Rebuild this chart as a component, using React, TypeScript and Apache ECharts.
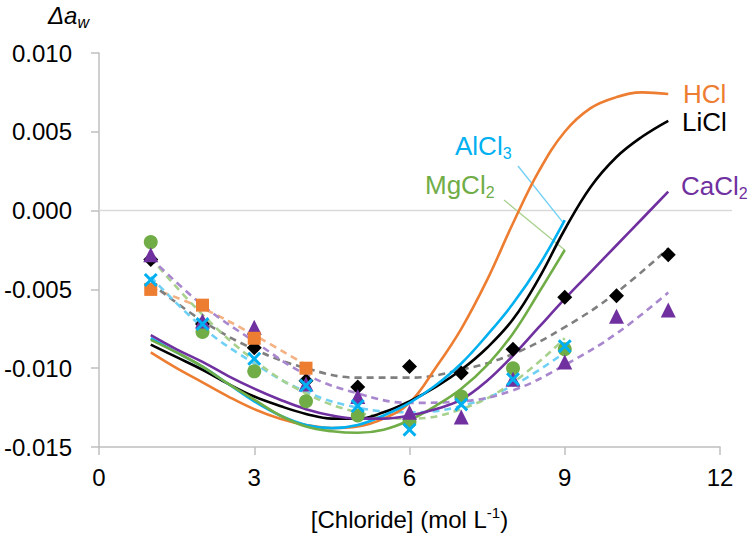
import React, { useEffect, useRef } from 'react';
import * as echarts from 'echarts';

// ---------- data ----------
const xTickValues = [0, 3, 6, 9, 12];
const yTickValues = [-0.015, -0.01, -0.005, 0, 0.005, 0.01];

const x4 = [1, 2, 3, 4];
const x9 = [1, 2, 3, 4, 5, 6, 7, 8, 9];
const x11 = [1, 2, 3, 4, 5, 6, 7, 8, 9, 10, 11];

// measured points
const hclPoints = [-0.005, -0.006, -0.0081, -0.01];
const liclPoints = [-0.0031, -0.0072, -0.0087, -0.0108, -0.0112, -0.0099, -0.0103, -0.0088, -0.0055, -0.0054, -0.0028];
const alcl3Points = [-0.0044, -0.0072, -0.0094, -0.0111, -0.0124, -0.0139, -0.0123, -0.0107, -0.0086];
const mgcl2Points = [-0.002, -0.0077, -0.0102, -0.0121, -0.013, -0.0134, -0.0118, -0.01, -0.0088];
const cacl2Points = [-0.0028, -0.007, -0.0074, -0.011, -0.0118, -0.0128, -0.0131, -0.0107, -0.0096, -0.0067, -0.0063];

// dashed trend lines (read at each x)
const hclTrend = [-0.0049, -0.0062, -0.0079, -0.0098];
const liclTrend = [-0.0046, -0.007, -0.0088, -0.01, -0.0106, -0.0106, -0.0101, -0.0091, -0.0074, -0.0052, -0.0024];
const alcl3Trend = [-0.0042, -0.0074, -0.0097, -0.0115, -0.0125, -0.0128, -0.0124, -0.0111, -0.009];
const mgcl2Trend = [-0.003, -0.0066, -0.0095, -0.0116, -0.0128, -0.0132, -0.0126, -0.0109, -0.0081];
const cacl2Trend = [-0.003, -0.006, -0.0083, -0.0104, -0.0116, -0.0122, -0.0121, -0.0114, -0.0098, -0.0078, -0.0052];

// solid model curves, read every 0.5
const curveX = [1, 1.5, 2, 2.5, 3, 3.5, 4, 4.5, 5, 5.5, 6, 6.5, 7, 7.5, 8, 8.5, 9, 9.5, 10, 10.5, 11];
const hclCurve = [-0.009, -0.01, -0.0109, -0.0118, -0.0126, -0.0132, -0.0136, -0.0138, -0.0137, -0.0132, -0.0122, -0.01, -0.0075, -0.0044, -0.0008, 0.0025, 0.005, 0.0065, 0.0072, 0.0075, 0.0074];
const liclCurve = [-0.0085, -0.0093, -0.0101, -0.011, -0.0118, -0.0124, -0.0129, -0.0132, -0.0132, -0.0128, -0.0121, -0.0112, -0.0101, -0.0087, -0.0069, -0.0043, -0.0012, 0.0015, 0.0034, 0.0047, 0.0057];
const alcl3Curve = [-0.0081, -0.009, -0.0099, -0.011, -0.0121, -0.013, -0.0136, -0.0138, -0.0136, -0.013, -0.0122, -0.0111, -0.0097, -0.0079, -0.0059, -0.0035, -0.0006];
const mgcl2Curve = [-0.0082, -0.009, -0.0099, -0.011, -0.012, -0.013, -0.0137, -0.014, -0.0141, -0.0139, -0.0133, -0.0124, -0.0113, -0.0098, -0.0078, -0.0052, -0.0025];
const cacl2Curve = [-0.0079, -0.0088, -0.0096, -0.0105, -0.0113, -0.012, -0.0126, -0.013, -0.0132, -0.0132, -0.013, -0.0126, -0.012, -0.0108, -0.0092, -0.0074, -0.0056, -0.0039, -0.0022, -0.0005, 0.0012];

const seriesNames = ['HCl', 'LiCl', 'AlCl3', 'MgCl2', 'CaCl2'];

// ---------- styling ----------
const FONT = 'Arial, "Liberation Sans", sans-serif';
const C = {
  hcl: '#ED7D31',
  licl: '#000000',
  alcl3: '#00B0F0',
  mgcl2: '#70AD47',
  cacl2: '#7030A0',
  hclT: '#F4B183',
  liclT: '#7F7F7F',
  alcl3T: '#6FD0F5',
  mgcl2T: '#A9D18E',
  cacl2T: '#A987CF',
  axis: '#BFBFBF',
};
const X_SYMBOL = 'path://M1.5,0 L5,3.5 L8.5,0 L10,1.5 L6.5,5 L10,8.5 L8.5,10 L5,6.5 L1.5,10 L0,8.5 L3.5,5 L0,1.5 Z';

const zip = (xs: number[], ys: number[]) => ys.map((y, i) => [xs[i], y]);

function measure(text: string, size: number, style = 'normal') {
  const ctx = document.createElement('canvas').getContext('2d');
  if (!ctx) return text.length * size * 0.55;
  ctx.font = `${style} ${size}px ${FONT}`;
  return ctx.measureText(text).width;
}

function txt(x: number, y: number, text: string, color: string, size: number, style = 'normal') {
  return {
    type: 'text',
    x,
    y,
    silent: true,
    z: 100,
    style: {
      text,
      fill: color,
      fontSize: size,
      fontFamily: FONT,
      fontStyle: style,
      align: 'left',
      verticalAlign: 'middle',
      textAlign: 'left',
      textVerticalAlign: 'middle',
    },
  };
}

function withSub(x: number, y: number, main: string, sub: string, color: string, size: number) {
  const w = measure(main, size);
  const els: any[] = [txt(x, y, main, color, size)];
  if (sub) els.push(txt(x + w, y + size * 0.3, sub, color, Math.round(size * 0.62)));
  return els;
}

function solid(name: string, xs: number[], ys: number[], color: string) {
  return {
    name,
    type: 'line',
    data: zip(xs, ys),
    smooth: 0.4,
    symbol: 'none',
    z: 4,
    lineStyle: { color, width: 2.6 },
  };
}

function trend(name: string, xs: number[], ys: number[], color: string) {
  return {
    name: name + ' trend',
    type: 'line',
    data: zip(xs, ys),
    smooth: 0.4,
    symbol: 'none',
    z: 3,
    lineStyle: { color, width: 2.6, type: [7, 5] },
  };
}

function pts(name: string, xs: number[], ys: number[], color: string, symbol: string, size: number, z: number) {
  return {
    name: name + ' data',
    type: 'scatter',
    data: zip(xs, ys),
    symbol,
    symbolSize: size,
    z,
    itemStyle: { color, opacity: 1 },
  };
}

export default function App() {
  const ref = useRef<HTMLDivElement>(null);
  useEffect(() => {
    if (!ref.current) return;
    const chart = echarts.init(ref.current, undefined, { renderer: 'svg' });
    const option: any = {
      animation: false,
      backgroundColor: '#ffffff',
      grid: { left: 99, top: 53, width: 621, height: 394, containLabel: false },
      xAxis: {
        type: 'value',
        min: xTickValues[0],
        max: xTickValues[xTickValues.length - 1],
        interval: xTickValues[1] - xTickValues[0],
        axisLine: { show: true, onZero: false, lineStyle: { color: C.axis, width: 1.5 } },
        axisTick: { show: true, length: 8, lineStyle: { color: C.axis, width: 1.5 } },
        splitLine: { show: false },
        axisLabel: { color: '#000', fontSize: 24, fontFamily: FONT, margin: 18 },
      },
      yAxis: {
        type: 'value',
        min: yTickValues[0],
        max: yTickValues[yTickValues.length - 1],
        interval: 0.005,
        axisLine: { show: true, onZero: false, lineStyle: { color: C.axis, width: 1.5 } },
        axisTick: { show: true, length: 8, lineStyle: { color: C.axis, width: 1.5 } },
        splitLine: { show: false },
        axisLabel: {
          color: '#000',
          fontSize: 24,
          fontFamily: FONT,
          margin: 27,
          formatter: (v: number) => (Math.abs(v) < 1e-9 ? 0 : v).toFixed(3),
        },
      },
      series: [
        trend(seriesNames[0], x4, hclTrend, C.hclT),
        trend(seriesNames[1], x11, liclTrend, C.liclT),
        trend(seriesNames[2], x9, alcl3Trend, C.alcl3T),
        trend(seriesNames[3], x9, mgcl2Trend, C.mgcl2T),
        trend(seriesNames[4], x11, cacl2Trend, C.cacl2T),
        solid(seriesNames[0], curveX, hclCurve, C.hcl),
        solid(seriesNames[1], curveX, liclCurve, C.licl),
        solid(seriesNames[2], curveX.slice(0, alcl3Curve.length), alcl3Curve, C.alcl3),
        solid(seriesNames[3], curveX.slice(0, mgcl2Curve.length), mgcl2Curve, C.mgcl2),
        solid(seriesNames[4], curveX, cacl2Curve, C.cacl2),
        pts(seriesNames[1], x11, liclPoints, C.licl, 'diamond', 15, 5),
        pts(seriesNames[3], x9, mgcl2Points, C.mgcl2, 'circle', 14, 6),
        pts(seriesNames[4], x11, cacl2Points, C.cacl2, 'triangle', 15, 7),
        pts(seriesNames[0], x4, hclPoints, C.hcl, 'rect', 13, 8),
        pts(seriesNames[2], x9, alcl3Points, C.alcl3, X_SYMBOL, 14, 9),
      ],
    };
    chart.setOption(option);

    const px = (x: number, y: number) => chart.convertToPixel({ gridIndex: 0 }, [x, y]) as number[];
    const z0 = px(0, 0);
    const z12 = px(12, 0);
    const alEnd = px(9, alcl3Curve[alcl3Curve.length - 1]);
    const mgEnd = px(9, mgcl2Curve[mgcl2Curve.length - 1]);

    const graphics: any[] = [];
    graphics.push({
      type: 'line',
      silent: true,
      z: 1,
      shape: { x1: z0[0], y1: z0[1], x2: z12[0] + 12, y2: z12[1] },
      style: { stroke: '#D9D9D9', lineWidth: 1.5 },
    });
    // leader lines
    graphics.push({
      type: 'line', silent: true, z: 2,
      shape: { x1: 518, y1: 166, x2: alEnd[0] - 2, y2: alEnd[1] + 2 },
      style: { stroke: '#6FD0F5', lineWidth: 1.3 },
    });
    graphics.push({
      type: 'line', silent: true, z: 2,
      shape: { x1: 504, y1: 200, x2: mgEnd[0], y2: mgEnd[1] },
      style: { stroke: '#A9D18E', lineWidth: 1.3 },
    });

    // series labels
    graphics.push(...withSub(683, 94, 'HCl', '', C.hcl, 26));
    graphics.push(...withSub(682, 122, 'LiCl', '', C.licl, 26));
    graphics.push(...withSub(681, 186, 'CaCl', '2', C.cacl2, 26));
    graphics.push(...withSub(455, 146, 'AlCl', '3', C.alcl3, 26));
    graphics.push(...withSub(425, 185, 'MgCl', '2', C.mgcl2, 26));

    // y axis name: Δa_w
    const dW = measure('Δa', 24, 'italic');
    graphics.push(txt(48, 15, 'Δa', '#000', 24, 'italic'));
    graphics.push(txt(48 + dW, 22, 'w', '#000', 16, 'italic'));

    // x axis name: [Chloride] (mol L-1)
    const a = '[Chloride] (mol L';
    const s = '-1';
    const b = ')';
    const fs = 24;
    const wa = measure(a, fs);
    const ws = measure(s, 15);
    const wb = measure(b, fs);
    const cx = (z0[0] + z12[0]) / 2;
    const start = cx - (wa + ws + wb) / 2;
    graphics.push(txt(start, 519, a, '#000', fs));
    graphics.push(txt(start + wa, 512, s, '#000', 15));
    graphics.push(txt(start + wa + ws, 519, b, '#000', fs));

    chart.setOption({ graphic: graphics });

    return () => chart.dispose();
  }, []);
  return <div ref={ref} style={{ position: 'fixed', left: 0, top: 0, width: 750, height: 535 }} />;
}
